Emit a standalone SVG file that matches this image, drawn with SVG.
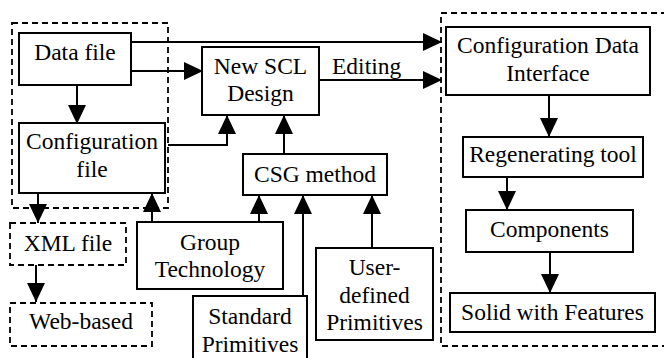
<svg xmlns="http://www.w3.org/2000/svg" width="664" height="358" viewBox="0 0 664 358">
  <style>
    .box { fill: #fff; stroke: #000; stroke-width: 2; }
    .dash { fill: none; stroke: #000; stroke-width: 1.8; stroke-dasharray: 6 4; }
    .wire { fill: none; stroke: #000; stroke-width: 2; marker-end: url(#ah); }
    .lbl { font-family: 'Liberation Serif', 'DejaVu Serif', 'Noto Serif', serif; font-size: 23.5px; fill: #000; text-anchor: middle; }
  </style>
  <defs>
    <marker id="ah" markerUnits="userSpaceOnUse" markerWidth="20" markerHeight="20" refX="19" refY="9" orient="auto">
      <path d="M0,0 L19,9 L0,18 Z" fill="#000"/>
    </marker>
  </defs>
  <rect width="664" height="358" fill="#fff"/>

  <!-- grouping frames -->
  <rect class="dash" x="12" y="23" width="156" height="185"/>
  <rect class="dash" x="441" y="13" width="232" height="333"/>

  <!-- connectors -->
  <g id="connectors">
    <path class="wire" d="M131,42 H442"/>
    <path class="wire" d="M131,71 H203"/>
    <path class="wire" d="M77,85 V124"/>
    <path class="wire" d="M168,145 H227 V115"/>
    <path class="wire" d="M319,80 H442"/>
    <path class="wire" d="M284,154 V115"/>
    <path class="wire" d="M152,222 V193"/>
    <path class="wire" d="M259,222 V195"/>
    <path class="wire" d="M303,296 V195"/>
    <path class="wire" d="M372,248 V195"/>
    <path class="wire" d="M38,193 V223"/>
    <path class="wire" d="M36,265 V302"/>
    <path class="wire" d="M549,95 V137"/>
    <path class="wire" d="M507,177 V210"/>
    <path class="wire" d="M550,252 V293"/>
  </g>

  <text class="lbl" x="332" y="74" style="text-anchor:start">Editing</text>

  <g id="data-file">
    <rect class="box" x="19" y="33" width="112" height="52"/>
    <text class="lbl" x="75" y="60">Data file</text>
  </g>
  <g id="configuration-file">
    <rect class="box" x="19" y="123" width="146" height="70"/>
    <text class="lbl" x="92" y="149">Configuration</text>
    <text class="lbl" x="92" y="177">file</text>
  </g>
  <g id="new-scl-design">
    <rect class="box" x="202" y="47" width="117" height="68"/>
    <text class="lbl" x="260.5" y="74">New SCL</text>
    <text class="lbl" x="260.5" y="101">Design</text>
  </g>
  <g id="csg-method">
    <rect class="box" x="243" y="154" width="144" height="41"/>
    <text class="lbl" x="315" y="182">CSG method</text>
  </g>
  <g id="group-technology">
    <rect class="box" x="137" y="222" width="146" height="67"/>
    <text class="lbl" x="210" y="250">Group</text>
    <text class="lbl" x="210" y="277">Technology</text>
  </g>
  <g id="standard-primitives">
    <rect class="box" x="193" y="296" width="114" height="70"/>
    <text class="lbl" x="250" y="324">Standard</text>
    <text class="lbl" x="250" y="352">Primitives</text>
  </g>
  <g id="user-defined-primitives">
    <rect class="box" x="316" y="248" width="117" height="92"/>
    <text class="lbl" x="374.5" y="275">User-</text>
    <text class="lbl" x="374.5" y="303">defined</text>
    <text class="lbl" x="374.5" y="330">Primitives</text>
  </g>
  <g id="xml-file">
    <rect class="dash" x="10" y="223" width="116" height="42"/>
    <text class="lbl" x="68" y="251">XML file</text>
  </g>
  <g id="web-based">
    <rect class="dash" x="10" y="303" width="142" height="43"/>
    <text class="lbl" x="81" y="329">Web-based</text>
  </g>
  <g id="configuration-data-interface">
    <rect class="box" x="446" y="27" width="204" height="68"/>
    <text class="lbl" x="548" y="53">Configuration Data</text>
    <text class="lbl" x="548" y="81">Interface</text>
  </g>
  <g id="regenerating-tool">
    <rect class="box" x="463" y="137" width="180" height="40"/>
    <text class="lbl" x="553" y="162">Regenerating tool</text>
  </g>
  <g id="components">
    <rect class="box" x="466" y="210" width="167" height="42"/>
    <text class="lbl" x="549.5" y="237">Components</text>
  </g>
  <g id="solid-with-features">
    <rect class="box" x="450" y="293" width="205" height="39"/>
    <text class="lbl" x="552.5" y="320">Solid with Features</text>
  </g>
</svg>
